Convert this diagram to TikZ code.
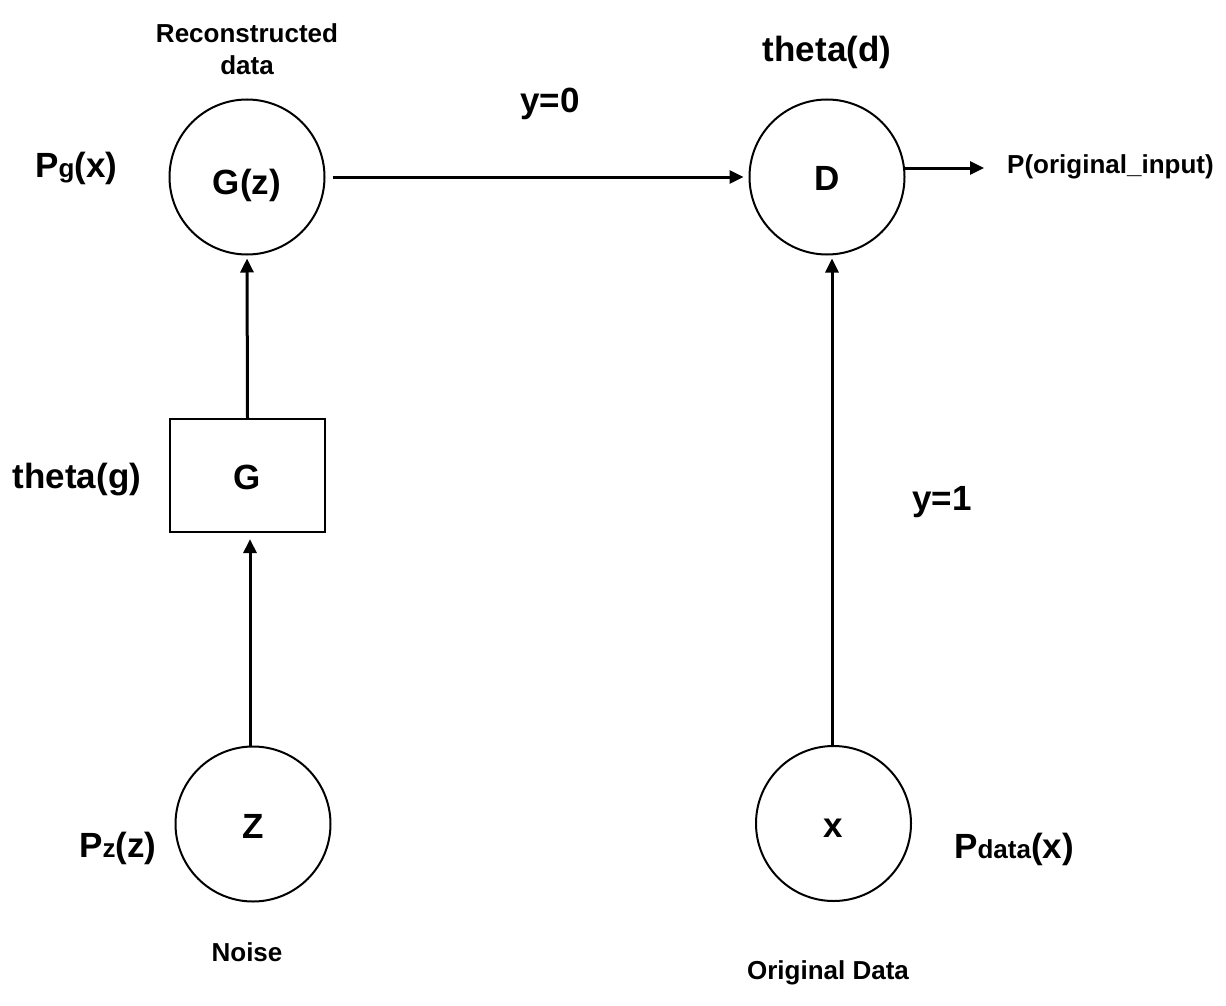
\documentclass[tikz,border=0pt]{standalone}
\usepackage{fontspec}
\setmainfont{Liberation Sans}
\usetikzlibrary{arrows.meta}
\begin{document}
\begin{tikzpicture}[x=1pt,y=-1pt,
  big/.style={font=\fontsize{35}{42}\selectfont\bfseries, inner sep=0pt, anchor=base},
  inner/.style={font=\fontsize{35}{42}\selectfont\bfseries, inner sep=0pt, anchor=base},
  small/.style={font=\fontsize{26}{32}\selectfont\bfseries, inner sep=0pt, anchor=base},
  circ/.style={draw, circle, line width=2pt, minimum size=155pt, inner sep=0pt},
  boxnode/.style={draw, rectangle, line width=2.2pt, minimum width=155pt, minimum height=113pt, inner sep=0pt},
  conn/.style={line width=3pt, -{Triangle[length=14pt,width=13pt]}},
]
\path[use as bounding box] (0,0) rectangle (1226,1006);

% shapes
\node[circ] (Gz) at (247,177) {};
\node[circ] (D) at (827,177) {};
\node[boxnode] (G) at (247.5,475.5) {};
\node[circ] (Z) at (253,824) {};
\node[circ] (X) at (833.5,823.5) {};

% texts inside
\node[inner] (tGz) at (247,194) {G(z)};
\node[inner] (tD) at (827,190) {D};
\node[inner] (tG) at (247,489) {G};
\node[inner] (tZ) at (253,838) {Z};
\node[inner] (tX) at (833,837) {x};

% labels
\node[small] (rec1) at (247,43) {Reconstructed};
\node[small] (rec2) at (247,75) {data};
\node[big, anchor=base west] (pg) at (35,178) {P{\fontsize{26}{32}\selectfont g}(x)};
\node[big] (thd) at (827,62) {theta(d)};
\node[big] (y0) at (550,113) {y=0};
\node[small, anchor=base west] (pout) at (1007,173) {P(original\_input)};
\node[big] (thg) at (77,488) {theta(g)};
\node[big] (y1) at (942,510) {y=1};
\node[big, anchor=base west] (pz) at (79,857) {P{\fontsize{26}{32}\selectfont z}(z)};
\node[small] (noise) at (247,961) {Noise};
\node[big, anchor=base west] (pdata) at (954,858) {P{\fontsize{26}{32}\selectfont data}(x)};
\node[small] (orig) at (828,979) {Original Data};

% connectors
\coordinate (outend) at (984,168);
\draw[conn, shorten <=7pt, shorten >=5pt] (Gz.east) -- (D.west);
\draw[conn] (D.east |- outend) ++(-2,0) -- (outend);
\draw[conn, shorten >=3pt] (G.north) -- (Gz.south);
\draw[conn, shorten >=6pt] (Z.north -| 250,0) -- (G.south -| 250,0);
\draw[conn, shorten >=3pt] (X.north -| 832,0) -- (D.south -| 832,0);
\end{tikzpicture}
\end{document}
